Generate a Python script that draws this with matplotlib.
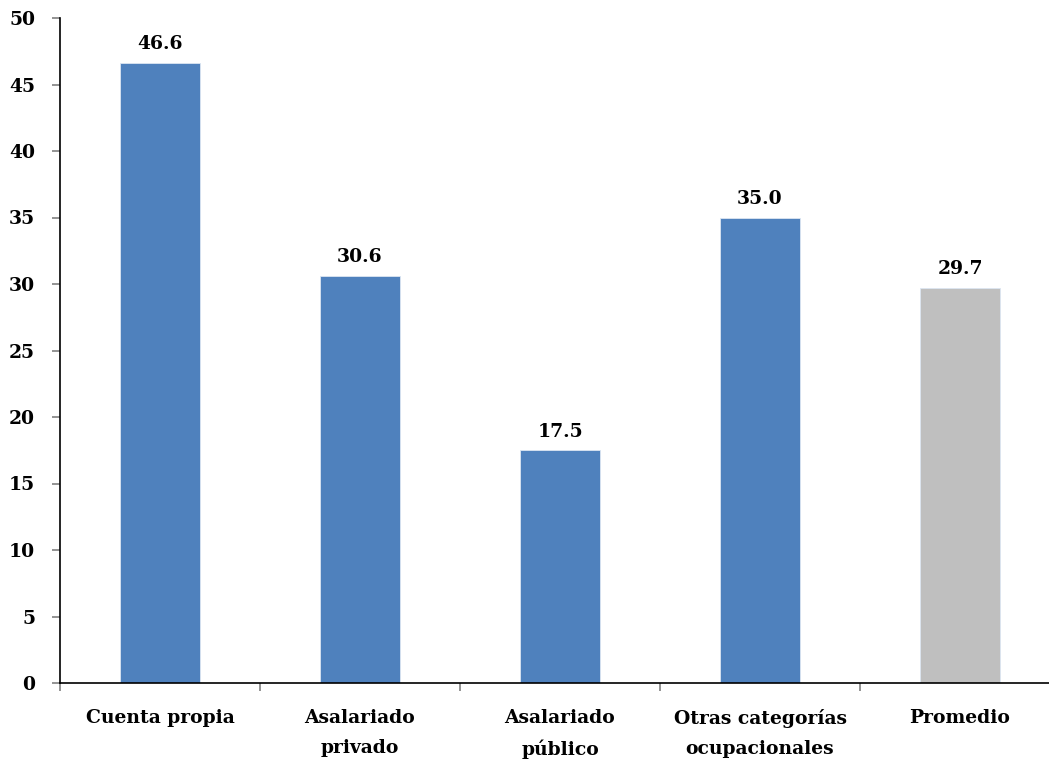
import matplotlib
matplotlib.use("Agg")
import matplotlib.pyplot as plt

categories = ["Cuenta propia", "Asalariado\nprivado", "Asalariado\npúblico",
              "Otras categorías\nocupacionales", "Promedio"]
values = [46.6, 30.6, 17.5, 35.0, 29.7]
colors = ["#4f81bd", "#4f81bd", "#4f81bd", "#4f81bd", "#bfbfbf"]
yticks = [0, 5, 10, 15, 20, 25, 30, 35, 40, 45, 50]

plt.rcParams['font.family'] = ['DejaVu Serif']
plt.rcParams['font.weight'] = 'bold'

fig = plt.figure(figsize=(10.49, 7.62), dpi=100)
ax = fig.add_axes([60/1049, 1-683/762, 989/1049, (683-18)/762])

x = list(range(len(categories)))
ax.bar(x, values, width=0.4, color=colors, edgecolor="#dce6f2", linewidth=0.6, zorder=2)
for xi, v in zip(x, values):
    ax.annotate(f"{v:.1f}", (xi, v), xytext=(0, 7), textcoords="offset points",
                ha="center", va="bottom", fontsize=13.5, fontweight="bold")

ax.set_xlim(-0.5, 4.445)
ax.set_ylim(0, 50)
ax.set_yticks(yticks)
ax.set_yticklabels([str(t) for t in yticks], fontsize=13.5, fontweight="bold")
ax.set_xticks(x)
ax.set_xticklabels(categories, fontsize=13.5, fontweight="bold", linespacing=1.8)
ax.tick_params(axis='x', length=0, pad=19)
ax.set_xticks([i + 0.5 for i in range(-1, 4)], minor=True)
ax.tick_params(axis='x', which='minor', length=6, color="#808080", width=1.2, direction='out')
ax.tick_params(axis='y', length=6, color="#808080", width=1.2, pad=12)
for s in ["top", "right"]:
    ax.spines[s].set_visible(False)
ax.spines["left"].set_linewidth(1.2)
ax.spines["bottom"].set_linewidth(1.2)

fig.savefig("out.png", dpi=100)
